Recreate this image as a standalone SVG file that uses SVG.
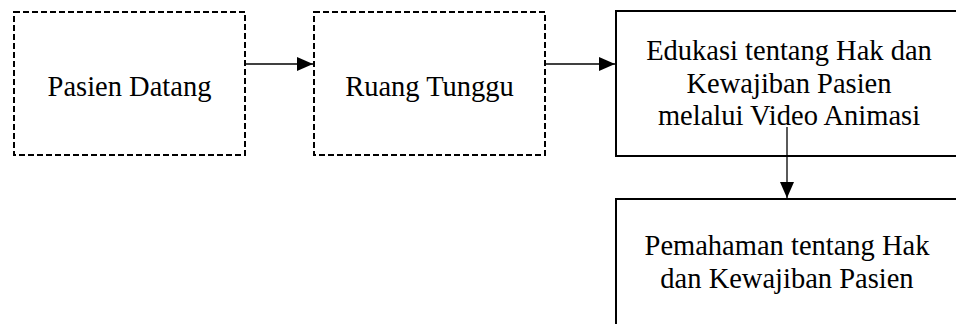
<svg xmlns="http://www.w3.org/2000/svg" width="956" height="324" viewBox="0 0 956 324">
  <style>
    .box { fill: #ffffff; stroke: #000000; stroke-width: 2; }
    .dashed { stroke-dasharray: 6 3; }
    .label { font-family: 'Liberation Serif', 'Times New Roman', Times, 'DejaVu Serif', serif; font-size: 28.5px; fill: #000000; text-anchor: middle; }
    .link { stroke: #000000; stroke-width: 1.3; fill: none; }
  </style>
  <defs>
    <marker id="arrow" viewBox="0 0 16 14" refX="16" refY="7" markerWidth="16" markerHeight="14" markerUnits="userSpaceOnUse" orient="auto">
      <path d="M0,0 L16,7 L0,14 Z" fill="#000000"/>
    </marker>
  </defs>
  <rect width="956" height="324" fill="#ffffff"/>

  <g id="node-pasien-datang">
    <rect class="box dashed" x="14" y="12" width="231" height="143"/>
    <text class="label" x="129.5" y="96">Pasien Datang</text>
  </g>

  <g id="node-ruang-tunggu">
    <rect class="box dashed" x="314" y="12" width="231" height="143"/>
    <text class="label" x="429.5" y="96">Ruang Tunggu</text>
  </g>

  <g id="node-edukasi">
    <rect class="box" x="616" y="11" width="350" height="145"/>
    <text class="label" x="789" y="60">Edukasi tentang Hak dan</text>
    <text class="label" x="789" y="93">Kewajiban Pasien</text>
    <text class="label" x="789" y="125">melalui Video Animasi</text>
  </g>

  <g id="node-pemahaman">
    <rect class="box" x="616" y="199" width="350" height="140"/>
    <text class="label" x="787" y="255">Pemahaman tentang Hak</text>
    <text class="label" x="787" y="288">dan Kewajiban Pasien</text>
  </g>

  <g id="connectors">
    <line class="link" x1="245" y1="64" x2="313" y2="64" marker-end="url(#arrow)"/>
    <line class="link" x1="545" y1="64" x2="615" y2="64" marker-end="url(#arrow)"/>
    <line class="link" x1="787" y1="127" x2="787" y2="198" marker-end="url(#arrow)"/>
  </g>
</svg>
